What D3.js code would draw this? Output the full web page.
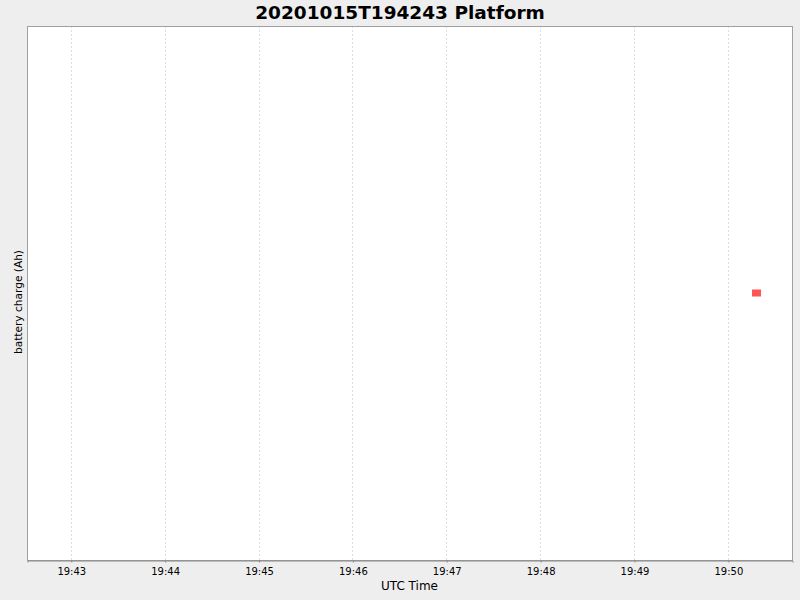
<!DOCTYPE html>
<html>
<head>
<meta charset="utf-8">
<script src="https://cdn.jsdelivr.net/npm/d3@7"></script>
<style>
  body { margin: 0; background: #eeeeee; }
  text { font-family: "DejaVu Sans", sans-serif; }
</style>
</head>
<body>
<div id="chart"></div>
<script>
// data
var title = '20201015T194243 Platform';
var xLabel = 'UTC Time';
var yLabel = 'battery charge (Ah)';
var domainTimes = ['2020-10-15T19:42:32Z', '2020-10-15T19:50:41Z'];
var pointTimes = ['2020-10-15T19:50:18Z'];
var pointValues = [12.0];

var w = 800;
var h = 600;
var plotL = 27, plotR = 792, plotT = 26, plotB = 560;

var parse = d3.isoParse;

var xScale = d3.scaleUtc()
  .domain(domainTimes.map(parse))
  .range([plotL, plotR]);

// single value: centre it vertically
var yScale = d3.scaleLinear()
  .domain([pointValues[0] - 1, pointValues[0] + 1])
  .range([plotB, plotT]);

var svg = d3.select('#chart')
  .append('svg')
  .attr('width', w)
  .attr('height', h);

svg.append('rect')
  .attr('width', w).attr('height', h)
  .attr('fill', '#eeeeee');

// plot background
svg.append('rect')
  .attr('x', plotL).attr('y', plotT)
  .attr('width', plotR - plotL).attr('height', plotB - plotT)
  .attr('fill', '#ffffff');

var ticks = xScale.ticks(d3.utcMinute.every(1));

// vertical gridlines
svg.selectAll('line.grid')
  .data(ticks)
  .enter()
  .append('line')
  .attr('class', 'grid')
  .attr('x1', function(d) { return Math.round(xScale(d)) + 0.5; })
  .attr('x2', function(d) { return Math.round(xScale(d)) + 0.5; })
  .attr('y1', plotT)
  .attr('y2', plotB)
  .attr('stroke', '#dddddd')
  .attr('stroke-width', 1)
  .attr('stroke-dasharray', '2,2');

// plot outline
svg.append('rect')
  .attr('x', plotL + 0.5).attr('y', plotT + 0.5)
  .attr('width', plotR - plotL).attr('height', plotB - plotT)
  .attr('fill', 'none')
  .attr('stroke', '#a0a0a0');

// x axis
var xAxis = d3.axisBottom(xScale)
  .tickValues(ticks)
  .tickFormat(d3.utcFormat('%H:%M'))
  .tickSize(2)
  .tickPadding(5);

var gx = svg.append('g')
  .attr('transform', 'translate(0.5,' + (plotB + 0.5) + ')')
  .call(xAxis);
gx.select('.domain').attr('stroke', '#888888');
gx.selectAll('.tick line').attr('stroke', '#888888');
gx.selectAll('.tick text')
  .attr('fill', '#000')
  .style('font-size', '10px')
  .style('font-family', '"DejaVu Sans", sans-serif');

// points
svg.selectAll('rect.pt')
  .data(pointTimes.map(function(t, i) { return [parse(t), pointValues[i]]; }))
  .enter()
  .append('rect')
  .attr('class', 'pt')
  .attr('x', function(d) { return xScale(d[0]) - 4; })
  .attr('y', function(d) { return yScale(d[1]) - 3.5; })
  .attr('width', 9)
  .attr('height', 7)
  .attr('fill', '#ff5555');

// title
svg.append('text')
  .attr('x', w / 2)
  .attr('y', 19)
  .attr('text-anchor', 'middle')
  .style('font-size', '18.5px')
  .style('font-weight', 'bold')
  .text(title);

// axis labels
svg.append('text')
  .attr('x', (plotL + plotR) / 2)
  .attr('y', 590)
  .attr('text-anchor', 'middle')
  .style('font-size', '12px')
  .text(xLabel);

svg.append('text')
  .attr('transform', 'translate(22,302) rotate(-90)')
  .attr('text-anchor', 'middle')
  .style('font-size', '11px')
  .attr('textLength', 104)
  .attr('lengthAdjust', 'spacingAndGlyphs')
  .text(yLabel);
</script>
</body>
</html>
